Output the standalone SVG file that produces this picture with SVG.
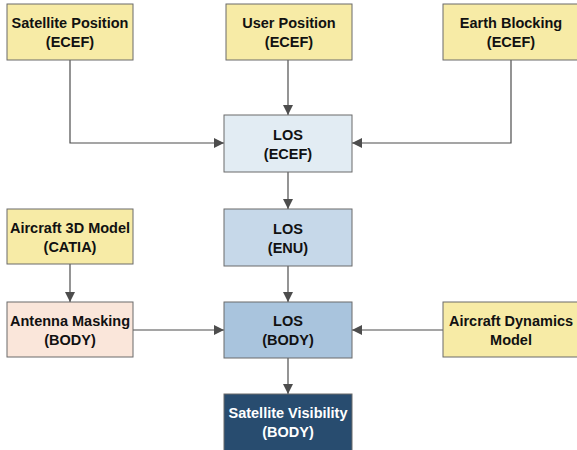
<svg xmlns="http://www.w3.org/2000/svg" width="577" height="450" viewBox="0 0 577 450">
  <style>
    .box { stroke: #6b6b6b; stroke-width: 1; }
    .yellow { fill: #F7EBA6; }
    .t { font-family: "Liberation Sans", Arial, sans-serif; font-size: 14.5px; font-weight: bold; fill: #111; text-anchor: middle; }
    .tw { fill: #ffffff; }
    .edge { fill: none; stroke: #4d4d4d; stroke-width: 1.2; marker-end: url(#arr); }
  </style>
  <defs>
    <marker id="arr" viewBox="0 0 10 10" refX="10" refY="5" markerWidth="10" markerHeight="10" markerUnits="userSpaceOnUse" orient="auto">
      <path d="M0,0 L10,5 L0,10 z" fill="#4d4d4d"/>
    </marker>
  </defs>
  <rect width="577" height="450" fill="#ffffff"/>

  <g id="connectors">
    <polyline class="edge" points="70,60 70,143 224,143"/>
    <polyline class="edge" points="288,60 288,115"/>
    <polyline class="edge" points="511,60 511,143 352,143"/>
    <polyline class="edge" points="288,172 288,209"/>
    <polyline class="edge" points="288,266 288,302"/>
    <polyline class="edge" points="70,264 70,302"/>
    <polyline class="edge" points="133,330 224,330"/>
    <polyline class="edge" points="443,330 352,330"/>
    <polyline class="edge" points="288,358 288,394"/>
  </g>

  <g id="satellite-position">
    <rect class="box yellow" x="7" y="4" width="126" height="56"/>
    <text class="t" x="70" y="28">Satellite Position</text>
    <text class="t" x="70" y="47">(ECEF)</text>
  </g>
  <g id="user-position">
    <rect class="box yellow" x="226" y="4" width="126" height="56"/>
    <text class="t" x="289" y="28">User Position</text>
    <text class="t" x="289" y="47">(ECEF)</text>
  </g>
  <g id="earth-blocking">
    <rect class="box yellow" x="443" y="4" width="137" height="56"/>
    <text class="t" x="511" y="28">Earth Blocking</text>
    <text class="t" x="511" y="47">(ECEF)</text>
  </g>
  <g id="los-ecef">
    <rect class="box" x="224" y="115" width="128" height="57" fill="#E2ECF3"/>
    <text class="t" x="288" y="140">LOS</text>
    <text class="t" x="288" y="159">(ECEF)</text>
  </g>
  <g id="los-enu">
    <rect class="box" x="224" y="209" width="128" height="57" fill="#C6D8E9"/>
    <text class="t" x="288" y="234">LOS</text>
    <text class="t" x="288" y="253">(ENU)</text>
  </g>
  <g id="aircraft-3d-model">
    <rect class="box yellow" x="7" y="209" width="126" height="55"/>
    <text class="t" x="70" y="233">Aircraft 3D Model</text>
    <text class="t" x="70" y="252">(CATIA)</text>
  </g>
  <g id="antenna-masking">
    <rect class="box" x="7" y="302" width="126" height="55" fill="#FAE6DA"/>
    <text class="t" x="70" y="326">Antenna Masking</text>
    <text class="t" x="70" y="345">(BODY)</text>
  </g>
  <g id="los-body">
    <rect class="box" x="224" y="302" width="128" height="56" fill="#A9C4DD"/>
    <text class="t" x="288" y="326">LOS</text>
    <text class="t" x="288" y="345">(BODY)</text>
  </g>
  <g id="aircraft-dynamics">
    <rect class="box yellow" x="443" y="302" width="137" height="55"/>
    <text class="t" x="511" y="326">Aircraft Dynamics</text>
    <text class="t" x="511" y="345">Model</text>
  </g>
  <g id="satellite-visibility">
    <rect class="box" x="224" y="394" width="128" height="57" fill="#284C6F"/>
    <text class="t tw" x="288" y="418">Satellite Visibility</text>
    <text class="t tw" x="288" y="437">(BODY)</text>
  </g>
</svg>
